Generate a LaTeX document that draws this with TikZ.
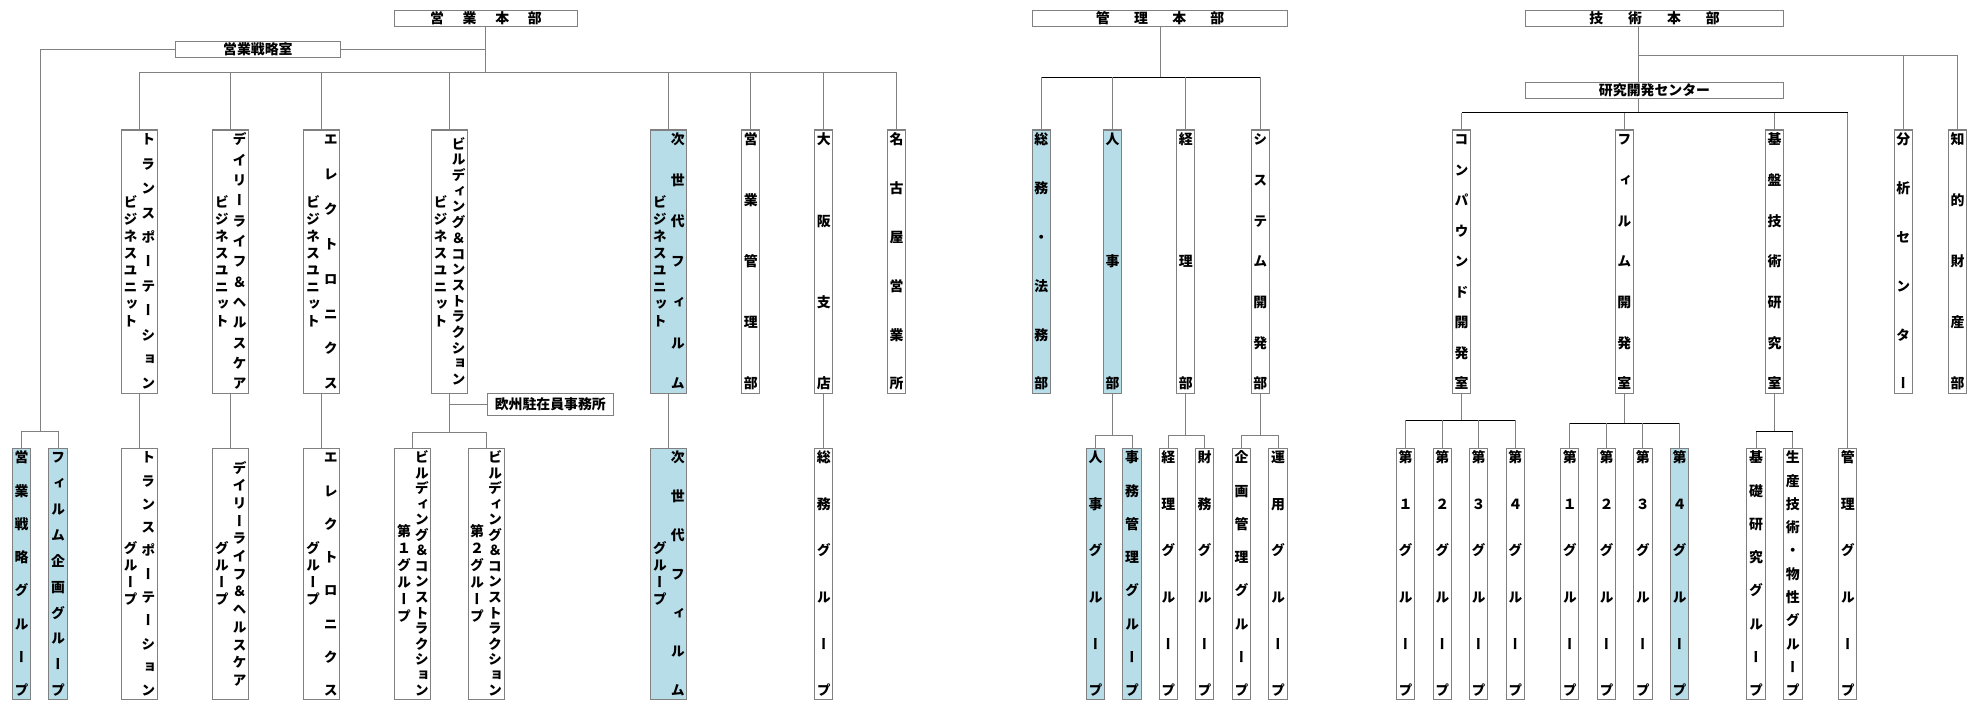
\documentclass[tikz,border=0pt]{standalone}
\usepackage{fontspec}
\usepackage{tikz}
\usetikzlibrary{positioning}

\newfontfamily\jpv[RawFeature=+vert]{Noto Sans CJK JP}
\newfontfamily\jph{Noto Sans CJK JP}
\definecolor{hlblue}{RGB}{183,221,232}

\newcommand\jstrut{\rule[-0.12em]{0pt}{1em}}
\ExplSyntaxOn
\seq_new:N \l_jp_chars_seq
\NewDocumentCommand \jpchars { m m }
  {
    \seq_clear:N \l_jp_chars_seq
    \tl_map_inline:nn {#2}
      { \seq_put_right:Nn \l_jp_chars_seq { \hbox_to_wd:nn {\linewidth} { \hss \jstrut ##1 \hss } } }
    \seq_use:Nn \l_jp_chars_seq {#1}
  }
\ExplSyntaxOff
% one column, spread from top to bottom
\newcommand\vcol[2]{\parbox[c][#1][s]{1.1em}{\baselineskip=11pt\jpchars{\vfill}{#2}}}
% one column, packed and centred
\newcommand\vpack[1]{\parbox[c]{1.1em}{\jpchars{}{#1}}}
% two columns: main text on the right, second line on the left
\newcommand\twocol[3]{\vpack{#3}\hspace{2pt}\vcol{#1}{#2}}

\begin{document}
\begin{tikzpicture}[x=1pt, y=-1pt,
  hq/.style={draw=black!50, line width=0.8pt, fill=white, inner sep=0pt,
    minimum height=12.7pt, font=\jph\bfseries\fontsize{11}{13}\selectfont},
  u2/.style={draw=black!50, line width=0.8pt, fill=white, inner sep=0pt,
    minimum width=14.5pt, minimum height=208.5pt,
    font=\jpv\bfseries\fontsize{11}{13.5}\selectfont},
  u3/.style={u2, minimum height=199.5pt},
  wide/.style={minimum width=28.5pt},
  hl/.style={fill=hlblue},
  ln/.style={draw=black!50, line width=0.8pt},
  lnk/.style={draw=black, line width=0.8pt}]

  \useasboundingbox (0,0) rectangle (1568,557);

  % bus levels
  \coordinate (sbus)  at (0,57.6);
  \coordinate (sgbus) at (31.7,342);
  \coordinate (bbus)  at (0,342.5);
  \coordinate (kbus)  at (0,61.3);
  \coordinate (kbus3) at (0,345);
  \coordinate (gx)    at (1298.5,43.6);
  \coordinate (rx)    at (1298.5,89.2);
  \coordinate (cbus)  at (0,333);
  \coordinate (fbus)  at (0,335.4);
  \coordinate (kbbus) at (0,342);

  % ---- sales
  \node[hq, minimum width=145pt] (eigyo) at (385,14.5)
    {営\hspace{1.35em}業\hspace{1.35em}本\hspace{1.35em}部};
  \node[hq, minimum width=130.5pt, minimum height=12.4pt] (senryaku) at (204.3,39.2) {営業戦略室};

  \node[u2, wide] (tbu) at (110.5,207.25) {\twocol{203pt}{トランスポーテーション}{ビジネスユニット}};
  \node[u2, wide] (dbu) at (182.7,207.25) {\twocol{203pt}{デイリーライフ＆ヘルスケア}{ビジネスユニット}};
  \node[u2, wide] (ebu) at (255.1,207.25) {\twocol{203pt}{エレクトロニクス}{ビジネスユニット}};
  \node[u2, wide] (bbu) at (356.2,207.25) {\twocol{196pt}{ビルディング＆コンストラクション}{ビジネスユニット}};
  \node[u2, wide, hl] (jbu) at (529.9,207.25) {\twocol{203pt}{次世代フィルム}{ビジネスユニット}};
  \node[u2] (ekan)   at (594.8,207.25) {\vcol{203pt}{営業管理部}};
  \node[u2] (osaka)  at (652.7,207.25) {\vcol{203pt}{大阪支店}};
  \node[u2] (nagoya) at (710.4,207.25) {\vcol{203pt}{名古屋営業所}};

  \node[hq, minimum width=100pt, minimum height=17pt] (europe) at (436,320.5) {欧州駐在員事務所};

  \node[u3, hl] (esg) at (17,454.75) {\vcol{194pt}{営業戦略グループ}};
  \node[u3, hl] (fkg) at (46,454.75) {\vcol{194pt}{フィルム企画グループ}};
  \node[u3, wide] (tg)  at (110.5,454.75) {\twocol{194pt}{トランスポーテーション}{グループ}};
  \node[u3, wide] (dg)  at (182.7,454.75) {\twocol{178pt}{デイリーライフ＆ヘルスケア}{グループ}};
  \node[u3, wide] (eg)  at (255.1,454.75) {\twocol{194pt}{エレクトロニクス}{グループ}};
  \node[u3, wide] (bg1) at (327.2,454.75) {\twocol{194pt}{ビルディング＆コンストラクション}{第１グループ}};
  \node[u3, wide] (bg2) at (385.1,454.75) {\twocol{194pt}{ビルディング＆コンストラクション}{第２グループ}};
  \node[u3, wide, hl] (jg) at (529.9,454.75) {\twocol{194pt}{次世代フィルム}{グループ}};
  \node[u3] (osg) at (652.7,454.75) {\vcol{194pt}{総務グループ}};

  \draw[ln] (eigyo.south) -- (eigyo.south |- sbus);
  \draw[ln] (senryaku.east) -- (eigyo.south |- senryaku.east);
  \draw[ln] (senryaku.west) -| (sgbus);
  \draw[ln] (esg.north) -- (esg.north |- sgbus) -- (fkg.north |- sgbus) -- (fkg.north);
  \draw[ln] (tbu.north |- sbus) -- (nagoya.north |- sbus);
  \foreach \n in {tbu,dbu,ebu,bbu,jbu,ekan,osaka,nagoya}
    \draw[ln] (\n.north) -- (\n.north |- sbus);
  \foreach \a/\b in {tbu/tg, dbu/dg, ebu/eg, jbu/jg, osaka/osg}
    \draw[ln] (\a.south) -- (\b.north);
  \draw[ln] (bbu.south) -- (bbu.south |- bbus);
  \draw[ln] (bbu.south |- europe.west) -- (europe.west);
  \draw[ln] (bg1.north) -- (bg1.north |- bbus) -- (bg2.north |- bbus) -- (bg2.north);

  % ---- administration
  \node[hq, minimum width=202pt] (kanri) at (919.2,14.5)
    {管\hspace{1.75em}理\hspace{1.75em}本\hspace{1.75em}部};
  \node[u2, hl] (soumu)  at (825,207.25)   {\vcol{203pt}{総務・法務部}};
  \node[u2, hl] (jinji)  at (881.5,207.25) {\vcol{203pt}{人事部}};
  \node[u2] (keiri)      at (939.5,207.25) {\vcol{203pt}{経理部}};
  \node[u2] (system)     at (998.5,207.25) {\vcol{203pt}{システム開発部}};

  \node[u3, hl] (jinjig) at (868,454.75)    {\vcol{194pt}{人事グループ}};
  \node[u3, hl] (jimug)  at (897,454.75)    {\vcol{194pt}{事務管理グループ}};
  \node[u3] (keirig)     at (925.7,454.75)  {\vcol{194pt}{経理グループ}};
  \node[u3] (zaimug)     at (954.4,454.75)  {\vcol{194pt}{財務グループ}};
  \node[u3] (kikakug)    at (983.7,454.75)  {\vcol{194pt}{企画管理グループ}};
  \node[u3] (unyoug)     at (1012.6,454.75) {\vcol{194pt}{運用グループ}};

  \draw[ln] (kanri.south) -- (kanri.south |- kbus);
  \draw[lnk] (soumu.north |- kbus) -- (system.north |- kbus);
  \foreach \n in {soumu,jinji,keiri,system}
    \draw[ln] (\n.north) -- (\n.north |- kbus);
  \foreach \up/\ca/\cb in {jinji/jinjig/jimug, keiri/keirig/zaimug, system/kikakug/unyoug} {
    \draw[ln] (\up.south) -- (\up.south |- kbus3);
    \draw[ln] (\ca.north) -- (\ca.north |- kbus3) -- (\cb.north |- kbus3) -- (\cb.north);
  }

  % ---- technology
  \node[hq, minimum width=205pt] (gijutsu) at (1310.9,14.5)
    {技\hspace{1.8em}術\hspace{1.8em}本\hspace{1.8em}部};
  \node[hq, minimum width=205pt] (rdc) at (1310.9,71.9) {研究開発センター};
  \node[u2] (comp)    at (1158,207.25) {\vcol{203pt}{コンパウンド開発室}};
  \node[u2] (film)    at (1287,207.25) {\vcol{203pt}{フィルム開発室}};
  \node[u2] (kiban)   at (1406,207.25) {\vcol{203pt}{基盤技術研究室}};
  \node[u2] (bunseki) at (1508,207.25) {\vcol{203pt}{分析センター}};
  \node[u2] (chizai)  at (1551,207.25) {\vcol{203pt}{知的財産部}};

  \node[u3] (cg1) at (1113.6,454.75) {\vcol{194pt}{第１グループ}};
  \node[u3] (cg2) at (1142.8,454.75) {\vcol{194pt}{第２グループ}};
  \node[u3] (cg3) at (1171.5,454.75) {\vcol{194pt}{第３グループ}};
  \node[u3] (cg4) at (1200.6,454.75) {\vcol{194pt}{第４グループ}};
  \node[u3] (fg1) at (1243.8,454.75) {\vcol{194pt}{第１グループ}};
  \node[u3] (fg2) at (1272.9,454.75) {\vcol{194pt}{第２グループ}};
  \node[u3] (fg3) at (1301.7,454.75) {\vcol{194pt}{第３グループ}};
  \node[u3, hl] (fg4) at (1330.8,454.75) {\vcol{194pt}{第４グループ}};
  \node[u3] (kbg) at (1391.4,454.75) {\vcol{194pt}{基礎研究グループ}};
  \node[u3] (ssg) at (1420.5,454.75) {\vcol{194pt}{生産技術・物性グループ}};
  \node[u3] (kanrig) at (1464,454.75) {\vcol{194pt}{管理グループ}};

  \draw[ln] (gijutsu.south -| gx) -- (rdc.north -| gx);
  \draw[ln] (gx) -| (chizai.north);
  \draw[ln] (bunseki.north) -- (bunseki.north |- gx);
  \draw[ln] (rdc.south -| rx) -- (rx);
  \draw[lnk] (comp.north |- rx) -- (kanrig.north |- rx);
  \foreach \n in {comp,film,kiban,kanrig}
    \draw[ln] (\n.north) -- (\n.north |- rx);
  \foreach \up/\ca/\cb/\bus in {comp/cg1/cg4/cbus, film/fg1/fg4/fbus, kiban/kbg/ssg/kbbus} {
    \draw[ln] (\up.south) -- (\up.south |- \bus);
    \draw[lnk] (\ca.north |- \bus) -- (\cb.north |- \bus);
  }
  \foreach \n/\bus in {cg1/cbus, cg2/cbus, cg3/cbus, cg4/cbus, fg1/fbus, fg2/fbus,
      fg3/fbus, fg4/fbus, kbg/kbbus, ssg/kbbus}
    \draw[ln] (\n.north) -- (\n.north |- \bus);
\end{tikzpicture}
\end{document}
